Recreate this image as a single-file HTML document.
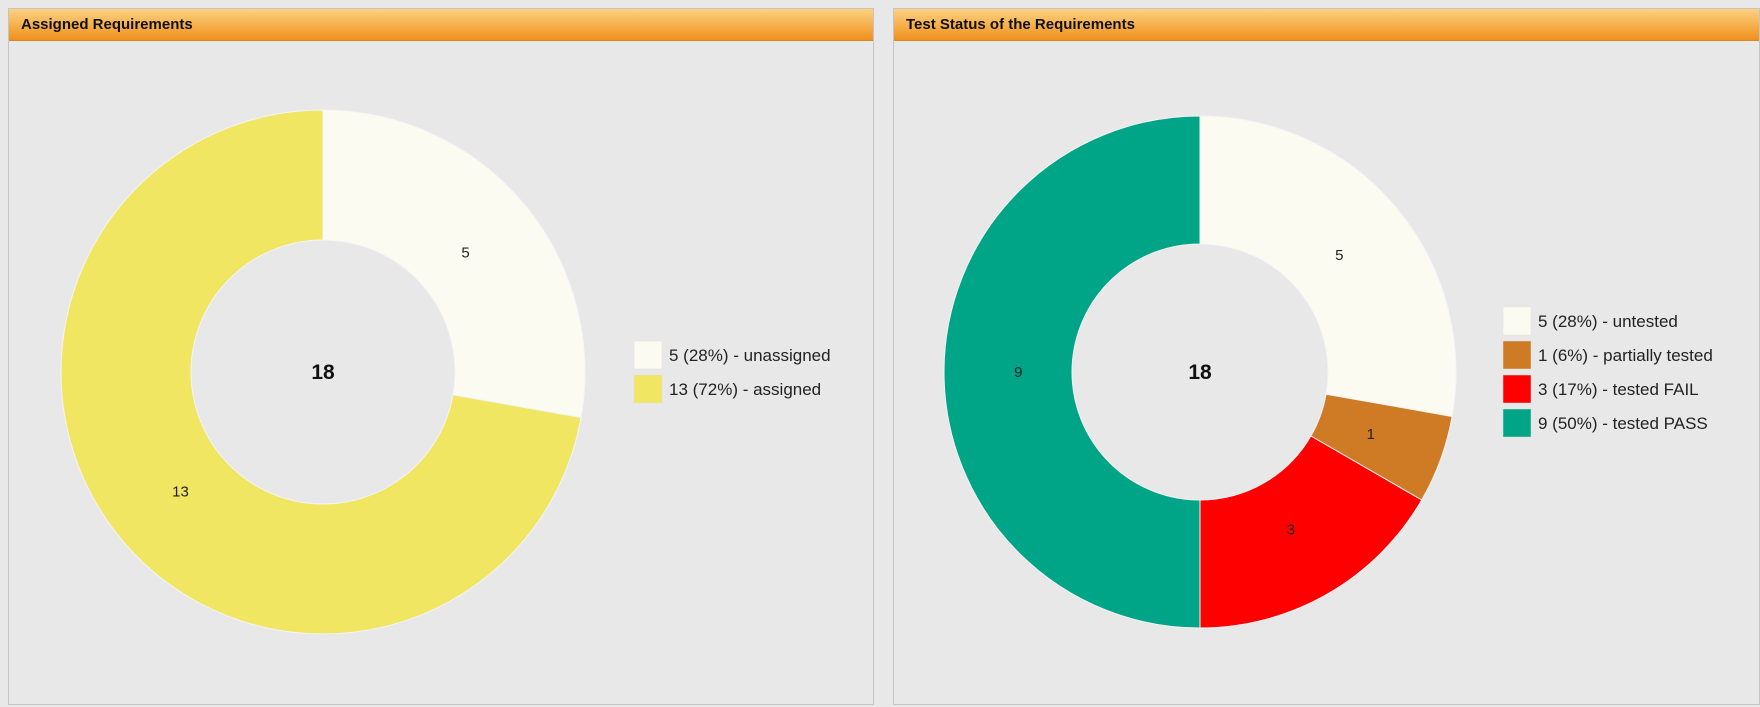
<!DOCTYPE html>
<html><head><meta charset="utf-8">
<style>
html,body{margin:0;padding:0;width:1760px;height:707px;background:#e8e8e8;overflow:hidden;font-family:"Liberation Sans",Arial,sans-serif;}
.panel{position:absolute;top:8px;height:695px;background:#e8e8e8;border:1px solid #c4c4c4;}
.hdr{position:absolute;left:0;right:0;top:0;height:31px;background:linear-gradient(#fcd282,#f0901c);border-bottom:1px solid #d88a2a;font-weight:bold;font-size:15px;line-height:31px;padding-left:12px;color:#111;}
</style></head><body>
<div class="panel" style="left:8px;width:864px">
 <div class="hdr">Assigned Requirements</div>
</div>
<div class="panel" style="left:893px;width:865px">
 <div class="hdr">Test Status of the Requirements</div>
</div>
<svg id="chart" width="1760" height="707" style="position:absolute;left:0;top:0"></svg>
<script>
const leftLabels = ["unassigned","assigned"];
const leftValues = [5,13];
const leftColors = ["#fcfbf2","#f0e662"];
const rightLabels = ["untested","partially tested","tested FAIL","tested PASS"];
const rightValues = [5,1,3,9];
const rightColors = ["#fcfbf2","#cf7a24","#ff0000","#00a587"];

const NS="http://www.w3.org/2000/svg";
const svg=document.getElementById('chart');
function mk(t,a){const e=document.createElementNS(NS,t);for(const k in a)e.setAttribute(k,a[k]);svg.appendChild(e);return e;}
function pt(cx,cy,r,f){const a=f*2*Math.PI;return [cx+r*Math.sin(a),cy-r*Math.cos(a)];}
function donut(name,cx,cy,ro,ri,vals,cols,labels,lx,ly){
 const tot=vals.reduce((a,b)=>a+b,0);let acc=0;
 vals.forEach((v,i)=>{
  const f0=acc/tot,f1=(acc+v)/tot;acc+=v;
  const large=(f1-f0)>0.5?1:0;
  const [x0,y0]=pt(cx,cy,ro,f0),[x1,y1]=pt(cx,cy,ro,f1),[x2,y2]=pt(cx,cy,ri,f1),[x3,y3]=pt(cx,cy,ri,f0);
  const p=mk('path',{d:`M${x0},${y0}A${ro},${ro} 0 ${large} 1 ${x1},${y1}L${x2},${y2}A${ri},${ri} 0 ${large} 0 ${x3},${y3}Z`,fill:cols[i],stroke:'#f4f4f4','stroke-width':1});
  
  
  const [tx,ty]=pt(cx,cy,ro*0.71,(f0+f1)/2);
  const t=mk('text',{x:tx,y:ty+5,'text-anchor':'middle','font-size':15,fill:'#222'});t.textContent=v;
  
  
  const pct=Math.round(v/tot*100);
  const r=mk('rect',{x:lx,y:ly+i*34,width:28,height:28,fill:cols[i],stroke:'#ddd','stroke-width':0.5});
  
  
  const lt=mk('text',{x:lx+35,y:ly+i*34+20,'font-size':17,fill:'#222'});lt.textContent=`${v} (${pct}%) - ${labels[i]}`;
  
  
 });
 const c=mk('text',{x:cx,y:cy+7,'text-anchor':'middle','font-size':21,'font-weight':'bold',fill:'#111'});c.textContent=tot;
 
 
}
donut('assigned',323,372,262,132,leftValues,leftColors,leftLabels,634,341);
donut('test-status',1200,372,256,128,rightValues,rightColors,rightLabels,1503,307);
</script>
</body></html>
